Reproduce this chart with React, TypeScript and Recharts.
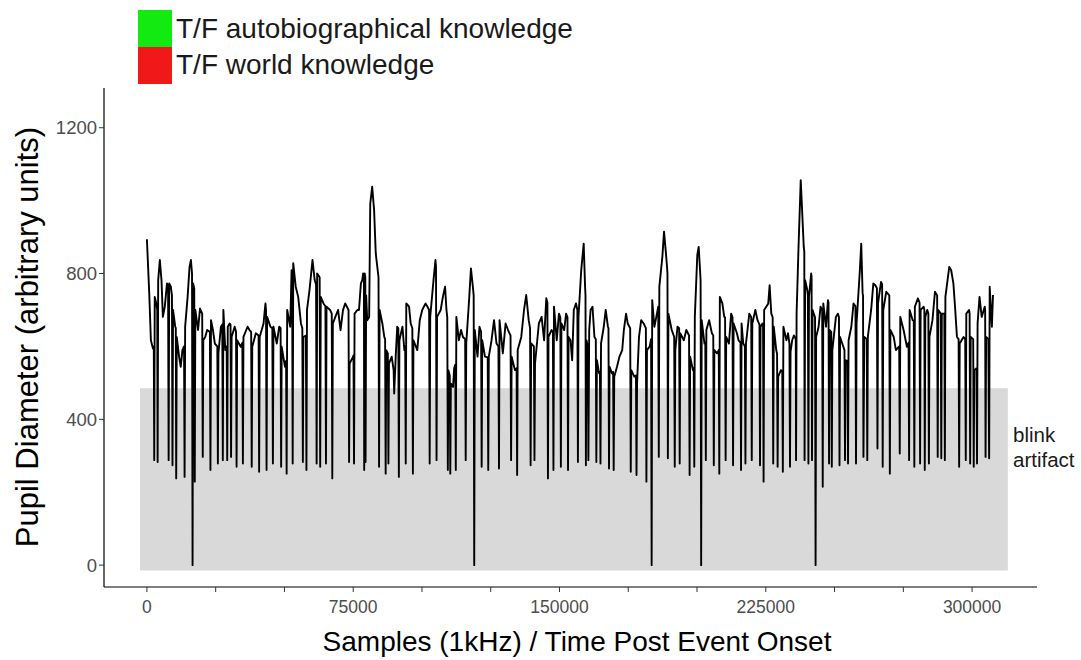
import React from 'react';
import { LineChart, Line, XAxis, YAxis, ReferenceArea } from 'recharts';

// ---- legend & annotation text ----
const legendLabels = ['T/F autobiographical knowledge', 'T/F world knowledge'];
const legendColors = ['#12ea12', '#f01818'];
const xAxisTitle = 'Samples (1kHz) / Time Post Event Onset';
const yAxisTitle = 'Pupil Diameter (arbitrary units)';
const blinkLabelLines = ['blink', 'artifact'];

// ---- axes ----
const xDomain = [-15600, 323600];
const yDomain = [-60, 1309];
const xTicks = [0, 25000, 50000, 75000, 100000, 125000, 150000, 175000, 200000, 225000, 250000, 275000, 300000];
const xLabelledTicks = [0, 75000, 150000, 225000, 300000];
const yTicks = [0, 400, 800, 1200];

// ---- blink artifact zone (samples, units) ----
const blinkZoneX = [-2500, 313000];
const blinkZoneY = [-15, 485];

// ---- pupil trace: [time in thousands of samples, pupil diameter] ----
const traceA: [number, number][] = [
  [0, 894], [0.85, 745], [1.45, 617], [2.2, 594], [2.5, 600], [2.66, 288], [2.85, 736], [3.4, 718], [3.75, 700], [3.9, 283],
  [4.1, 782], [4.7, 837], [5.3, 782], [5.8, 681], [6.5, 709], [7.3, 773], [7.7, 760], [7.9, 288], [8.1, 773], [8.7, 764],
  [9.1, 740], [9.3, 274], [9.5, 700], [10.3, 654], [10.5, 650], [10.65, 238], [10.85, 626], [11.7, 572], [12.3, 544], [12.9, 590],
  [13.5, 600], [13.7, 242], [13.9, 654], [14.8, 736], [15.5, 818], [16.0, 837], [16.4, 800], [16.6, 0], [16.8, 773], [17.2, 760],
  [17.4, 229], [17.6, 700], [18.6, 645], [19.3, 704], [20.1, 690], [20.3, 297], [20.5, 617], [21.2, 626], [21.9, 645], [22.9, 640],
  [23.1, 261], [23.3, 672], [24.0, 645], [24.7, 608], [25.6, 600], [25.8, 279], [26.0, 581], [26.9, 654], [27.4, 660], [27.6, 288],
  [27.8, 700], [28.5, 590], [29.0, 600], [29.2, 288], [29.4, 654], [30.1, 663], [30.4, 660], [30.6, 297], [30.8, 626], [31.9, 654],
  [32.4, 640], [32.6, 270], [32.8, 617], [34.1, 599], [34.7, 610], [34.9, 279], [35.1, 626], [36.6, 654], [37.3, 645], [37.9, 640],
  [38.1, 270], [38.3, 599], [39.6, 636], [40.6, 630], [40.8, 256], [41.0, 626], [42.4, 663], [43.1, 718], [43.3, 700], [43.5, 261],
  [43.7, 681], [44.9, 654], [45.6, 650], [45.8, 279], [46.0, 654], [47.2, 608], [48.1, 654], [48.6, 650], [48.8, 270], [49.0, 599],
  [50.2, 544], [50.6, 560], [50.8, 251], [51.0, 700], [52.1, 654], [52.6, 809], [52.8, 800], [53.0, 279], [53.2, 828], [54.1, 764],
  [55.0, 736], [56.0, 663], [56.5, 650], [56.7, 283], [56.9, 626], [57.8, 630], [58.0, 261], [58.2, 700], [59.1, 754], [60.2, 837],
  [61.0, 782], [61.5, 770], [61.7, 279], [61.9, 800], [62.8, 790], [63.0, 270], [63.2, 736], [64.2, 718], [64.9, 710], [65.1, 279],
  [65.3, 709], [66.6, 700], [67.2, 690], [67.4, 238], [67.6, 663], [68.5, 681], [69.5, 700], [70.4, 645], [71.3, 700], [72.1, 718],
  [73.3, 700], [73.5, 283], [73.7, 553], [74.8, 570], [75.1, 575], [75.3, 279], [75.5, 690], [76.5, 700],
];
const traceB: [number, number][] = [
  [77.1, 700], [77.8, 773], [78.3, 782], [78.6, 800], [78.9, 790], [79.0, 261], [79.2, 800], [79.4, 790], [79.5, 283], [79.7, 740],
  [80.1, 672], [80.8, 681], [81.2, 992], [81.9, 1038], [82.6, 974], [83.2, 855], [83.9, 809], [84.2, 790], [84.4, 270], [84.6, 700],
  [85.6, 663], [86.3, 626], [86.6, 620], [86.8, 251], [87.0, 590], [87.6, 580], [87.8, 279], [88.0, 553], [89.0, 572], [89.7, 535],
  [89.9, 471], [90.5, 580], [91.0, 654], [91.4, 650], [91.6, 242], [91.8, 617], [92.9, 654], [93.6, 590], [93.9, 600], [94.1, 279],
  [94.3, 718], [95.3, 709], [95.9, 663], [96.5, 650], [96.7, 251], [96.9, 617], [98.3, 590], [99.2, 672], [100.1, 700], [101.3, 718],
  [102.0, 709], [102.6, 700], [102.8, 279], [103.0, 681], [104.2, 782], [104.9, 837], [105.1, 820], [105.3, 288], [105.5, 681], [106.8, 700],
  [107.6, 736], [108.4, 764], [108.9, 700], [109.2, 680], [109.4, 261], [109.6, 535], [110.1, 520], [110.3, 251], [110.5, 498], [111.3, 489],
  [111.7, 540], [112.1, 550], [112.3, 261], [112.5, 681], [113.4, 617], [114.2, 645], [114.9, 626], [115.7, 620], [115.9, 288], [116.1, 608],
  [117.2, 736], [117.8, 814], [118.5, 764], [118.8, 740], [119.0, 0], [119.2, 645], [120.2, 572], [120.9, 654], [121.5, 640], [121.7, 270],
  [121.9, 617], [122.9, 572], [123.9, 570], [124.1, 261], [124.3, 572], [125.3, 617], [126.2, 672], [127.1, 608], [127.8, 600], [128.0, 265],
  [128.2, 672], [129.4, 581], [130.4, 663], [131.3, 645], [132.2, 630], [132.4, 288], [132.6, 572], [133.8, 535], [134.4, 540], [134.6, 247],
  [134.8, 590], [136.1, 626], [137.1, 700], [137.9, 741], [138.8, 672], [139.3, 650], [139.5, 274], [139.7, 608], [140.7, 600], [140.9, 288],
  [141.1, 553], [142.5, 663], [143.5, 681], [144.4, 617], [145.2, 732], [145.6, 720], [145.8, 238], [146.0, 626], [147.1, 645], [147.6, 640],
  [147.8, 261], [148.0, 709], [149.0, 617], [149.8, 690], [150.3, 680], [150.5, 270], [150.7, 663], [151.7, 645], [152.4, 690], [152.9, 680],
  [153.1, 261], [153.3, 626],
];
const traceC: [number, number][] = [
  [154.0, 617], [154.6, 562], [155.2, 700], [156.0, 718], [156.5, 700], [156.7, 283], [156.9, 681], [157.9, 809], [158.8, 882], [159.3, 764],
  [159.45, 740], [159.6, 274], [159.8, 617], [160.3, 600], [160.5, 288], [160.8, 645], [161.3, 700], [162.0, 709], [162.7, 626], [163.2, 620],
  [163.4, 283], [163.6, 562], [164.4, 526], [164.7, 530], [164.9, 279], [165.1, 608], [166.1, 654], [166.8, 700], [167.6, 654], [167.8, 650],
  [168.0, 265], [168.2, 544], [169.1, 526], [169.5, 530], [169.7, 261], [169.9, 517], [170.9, 544], [171.8, 572], [172.8, 590], [173.4, 645],
  [174.2, 690], [174.8, 663], [175.7, 650], [175.9, 256], [176.1, 535], [177.2, 517], [177.8, 520], [178.0, 247], [178.2, 498], [178.9, 626],
  [179.7, 672], [180.6, 663], [181.4, 650], [181.6, 229], [181.8, 590], [182.8, 600], [183.3, 620], [183.5, 0], [183.7, 727], [184.5, 654],
  [185.2, 681], [185.9, 709], [186.1, 297], [186.3, 764], [187.4, 846], [188.0, 915], [188.6, 864], [189.1, 818], [189.25, 800], [189.4, 293],
  [189.6, 690], [190.8, 645], [191.7, 626], [191.9, 270], [192.1, 590], [192.9, 654], [193.5, 650], [193.7, 279], [193.9, 636], [195.2, 617],
  [196.1, 645], [197.1, 630], [197.3, 247], [197.5, 572], [198.5, 535], [198.8, 540], [199.0, 270], [199.2, 681], [200.1, 851], [200.6, 873],
  [201.1, 809], [201.3, 780], [201.5, 0], [201.7, 672], [202.7, 608], [203.0, 610], [203.2, 288], [203.4, 645], [204.4, 672], [205.4, 636],
  [205.9, 630], [206.1, 274], [206.3, 590], [207.3, 581], [207.9, 590], [208.1, 251], [208.3, 736], [209.2, 718], [209.9, 681], [210.2, 680],
  [210.4, 288], [210.6, 626], [211.6, 608], [212.4, 690], [212.9, 680], [213.1, 274], [213.3, 663], [214.5, 636], [215.1, 617], [215.8, 610],
  [216.0, 261], [216.2, 663], [216.8, 608], [217.4, 600], [217.6, 279], [217.8, 608], [219.0, 690], [219.7, 680], [219.9, 288], [220.1, 663],
  [221.2, 700], [222.0, 672], [222.7, 660], [222.9, 274], [223.1, 654], [223.8, 663], [224.0, 660], [224.2, 229], [224.4, 700], [225.9, 718],
  [226.4, 768], [227.0, 690], [227.5, 680], [227.7, 279], [227.9, 654], [228.8, 590], [229.1, 580], [229.3, 270], [229.5, 517], [230.5, 535],
  [231.0, 530], [231.2, 256], [231.4, 654], [232.5, 617],
];
const traceD: [number, number][] = [
  [233.1, 636], [233.6, 608], [233.8, 270], [234.0, 585], [234.6, 617], [235.2, 630], [235.9, 620], [236.0, 288], [236.2, 690], [236.9, 873],
  [237.7, 1056], [238.2, 974], [238.8, 873], [239.0, 860], [239.1, 288], [239.3, 782], [240.1, 754], [240.3, 740], [240.5, 279], [240.7, 736],
  [241.5, 800], [241.65, 790], [241.8, 288], [242.0, 700], [242.9, 680], [243.1, 0], [243.3, 626], [244.2, 654], [244.9, 709], [245.5, 700],
  [245.7, 215], [245.9, 718], [246.9, 654], [247.6, 727], [247.8, 720], [248.0, 279], [248.2, 645], [248.8, 640], [249.0, 270], [249.2, 590],
  [250.5, 681], [251.2, 690], [251.6, 680], [251.8, 274], [252.0, 626], [253.2, 599], [253.6, 590], [253.8, 288], [254.0, 562], [254.7, 560],
  [254.9, 279], [255.1, 617], [256.1, 654], [256.9, 718], [257.6, 710], [257.8, 279], [258.0, 663], [259.2, 809], [259.7, 882], [260.2, 745],
  [260.35, 740], [260.5, 297], [260.8, 626], [261.7, 620], [261.9, 288], [262.1, 626], [263.3, 700], [264.1, 773], [264.8, 768], [265.4, 760],
  [265.6, 320], [265.8, 718], [266.9, 777], [267.3, 770], [267.5, 270], [267.7, 700], [268.8, 750], [269.9, 740], [270.1, 251], [270.3, 645],
  [271.5, 626], [272.3, 590], [273.5, 600], [273.7, 306], [273.9, 681], [275.1, 645], [276.3, 599], [276.9, 610], [277.1, 288], [277.3, 700],
  [278.4, 672], [278.8, 670], [279.0, 270], [279.2, 709], [280.3, 732], [280.9, 720], [281.1, 279], [281.3, 700], [282.4, 709], [282.65, 700],
  [282.8, 261], [283.0, 681], [283.7, 700], [284.1, 690], [284.3, 279], [284.5, 626], [285.6, 672], [286.5, 750], [287.3, 740], [287.5, 297],
  [287.7, 700], [288.6, 690], [288.8, 293], [289.0, 690], [289.9, 690], [290.1, 288], [290.3, 736], [291.7, 818], [292.4, 809], [293.2, 773],
  [293.8, 709], [294.5, 626], [295.1, 620], [295.3, 270], [295.5, 608], [296.9, 626], [297.5, 620], [297.7, 288], [297.9, 690], [298.9, 700],
  [299.1, 690], [299.3, 279], [299.5, 626], [300.4, 620], [300.6, 270], [300.8, 535], [301.6, 540], [301.8, 279], [302.0, 663], [302.7, 736],
  [303.5, 681], [304.6, 709], [304.75, 700], [304.9, 297], [305.1, 626], [305.9, 620], [306.2, 293], [306.4, 764], [307.2, 654], [307.6, 741],
];

const trace = [...traceA, ...traceB, ...traceC, ...traceD];
const data = trace.map(([t, v]) => ({ sample: t * 1000, pupil: v }));

const FONT = '"Liberation Sans", Arial, Helvetica, sans-serif';

export default function App() {
  return (
    <div style={{ position: 'absolute', left: 0, top: 0, width: 1081, height: 660, background: '#fff' }}>
      <LineChart
        width={1081}
        height={660}
        data={data}
        margin={{ top: 88, right: 44, bottom: 33, left: 44 }}
      >
        <ReferenceArea
          x1={blinkZoneX[0]}
          x2={blinkZoneX[1]}
          y1={blinkZoneY[0]}
          y2={blinkZoneY[1]}
          fill="#d9d9d9"
          fillOpacity={1}
          stroke="none"
          ifOverflow="visible"
        />
        <XAxis
          type="number"
          dataKey="sample"
          domain={xDomain}
          ticks={xTicks}
          allowDataOverflow
          height={40}
          interval={0}
          tickFormatter={(v: number) => (xLabelledTicks.includes(v) ? String(v) : '')}
          axisLine={{ stroke: '#000', strokeWidth: 1.2 }}
          tickLine={{ stroke: '#333', strokeWidth: 1 }}
          tickSize={5}
          tickMargin={9}
          tick={{ fill: '#4d4d4d', fontSize: 17.5, fontFamily: FONT }}
        />
        <YAxis
          type="number"
          domain={yDomain}
          ticks={yTicks}
          allowDataOverflow
          width={60}
          interval={0}
          axisLine={{ stroke: '#000', strokeWidth: 1.2 }}
          tickLine={{ stroke: '#333', strokeWidth: 1 }}
          tickSize={5}
          tickMargin={2}
          tick={{ fill: '#4d4d4d', fontSize: 18.5, fontFamily: FONT }}
        />
        <Line
          type="linear"
          dataKey="pupil"
          stroke="#000"
          strokeWidth={1.9}
          strokeLinejoin="round"
          dot={false}
          activeDot={false}
          isAnimationActive={false}
        />
      </LineChart>
      <svg
        width={1081}
        height={660}
        style={{ position: 'absolute', left: 0, top: 0, pointerEvents: 'none' }}
      >
        {legendLabels.map((label, i) => (
          <g key={label}>
            <rect x={138} y={10 + i * 37} width={34} height={37} fill={legendColors[i]} />
            <text x={176} y={38 + i * 35.5} fontSize={28} fontFamily={FONT} fill="#1a1a1a">
              {label}
            </text>
          </g>
        ))}
        <text x={577} y={651} textAnchor="middle" fontSize={28} fontFamily={FONT} fill="#000">
          {xAxisTitle}
        </text>
        <text
          transform="translate(38,337) rotate(-90)"
          textAnchor="middle"
          fontSize={31}
          fontFamily={FONT}
          fill="#000"
        >
          {yAxisTitle}
        </text>
        {blinkLabelLines.map((line, i) => (
          <text key={line} x={1013} y={442 + i * 25} fontSize={20.5} fontFamily={FONT} fill="#1a1a1a">
            {line}
          </text>
        ))}
      </svg>
    </div>
  );
}
